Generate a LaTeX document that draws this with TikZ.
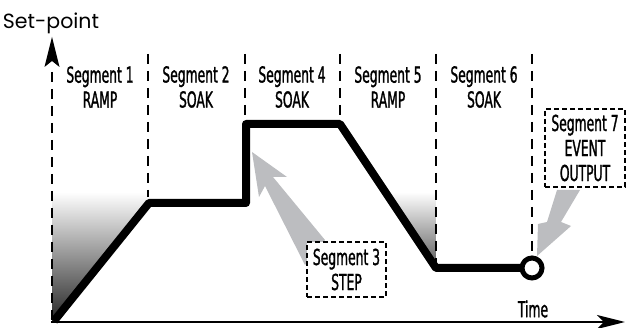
\documentclass[tikz,border=0pt]{standalone}
\usepackage{fontspec}
\usetikzlibrary{arrows.meta}
\newfontfamily\labelfont[FakeStretch=0.56, FakeBold=1.2]{DejaVu Sans}
\newfontfamily\axisfont{Poppins}
\definecolor{pointer}{HTML}{BCBDC0}
\tikzset{
  divider/.style={line width=2.6pt, dash pattern=on 10pt off 7pt},
  profile/.style={line width=8pt, line join=round},
  seglabel/.style={font=\labelfont\fontsize{22}{25}\selectfont, align=center},
  callout/.style={draw, fill=white, line width=2.2pt, dash pattern=on 5pt off 3pt, seglabel, inner sep=0pt},
}
\begin{document}
\begin{tikzpicture}[x=1pt, y=-1pt]
  \useasboundingbox (0,0) rectangle (627,328);
  % ── corners of the set-point profile ──────────────────
  \coordinate (p0) at (54,321);
  \coordinate (p1) at (149,203);
  \coordinate (p2) at (246,203);
  \coordinate (p3) at (246,124);
  \coordinate (p4) at (340,124);
  \coordinate (p5) at (436,268);
  \coordinate (p6) at (532,268);
  % ── shaded wedges ─────────────────────────────────────
  \shade[top color=white, bottom color=black!85] (52,192) -- (148,192) -- (p1) -- (p0) -- (52,322) -- cycle;
  \shade[top color=white, bottom color=black!65] (386,192) -- (436,192) -- (436,268) -- cycle;
  % ── segment dividers and axes ─────────────────────────
  \draw[divider] (52,72) -- (52,320);
  \foreach \x/\y in {148/197, 245/120, 340/120, 436/264, 532/257}
    \draw[divider] (\x,54) -- (\x,\y);
  \fill (52,37) -- (59.5,67) -- (52,61) -- (44.5,67) -- cycle;
  \draw[line width=2.5pt, -{Stealth[length=28pt, width=14pt, inset=7pt]}] (51,322) -- (625,322);
  % ── gray pointers ─────────────────────────────────────
  \fill[pointer] (252,152) -- (287,177) -- (273,177) -- (325,240) -- (305,265) -- (265,186) -- (259,197) -- cycle;
  \fill[pointer] (557,190) -- (580,190) -- (561,222) -- (571,226) -- (537,256) -- (538,224) -- (547,222) -- cycle;
  % ── profile ───────────────────────────────────────────
  \draw[profile] (p0) -- (p1) -- (p2) -- (p3) -- (p4) -- (p5) -- (p6);
  \node[circle, draw, fill=white, line width=5pt, minimum size=20pt, inner sep=0pt] (event) at (p6) {};
  % ── callouts ──────────────────────────────────────────
  \node[callout, minimum width=79pt, minimum height=55pt] (step) at (346.5,269.5) {Segment 3\\STEP};
  \node[callout, minimum width=80pt, minimum height=78pt] (output) at (585,148) {Segment 7\\EVENT\\OUTPUT};
  % ── labels ────────────────────────────────────────────
  \foreach \x/\num/\kind in {100/1/RAMP, 196/2/SOAK, 292/4/SOAK, 388/5/RAMP, 484/6/SOAK}
    \node[seglabel] (seg\num) at (\x,87) {Segment \num\\\kind};
  \node[font=\axisfont\fontsize{20.5}{24}\selectfont] (setpoint) at (51,23) {Set-point};
  \node[seglabel] (time) at (533,309) {Time};
\end{tikzpicture}
\end{document}
